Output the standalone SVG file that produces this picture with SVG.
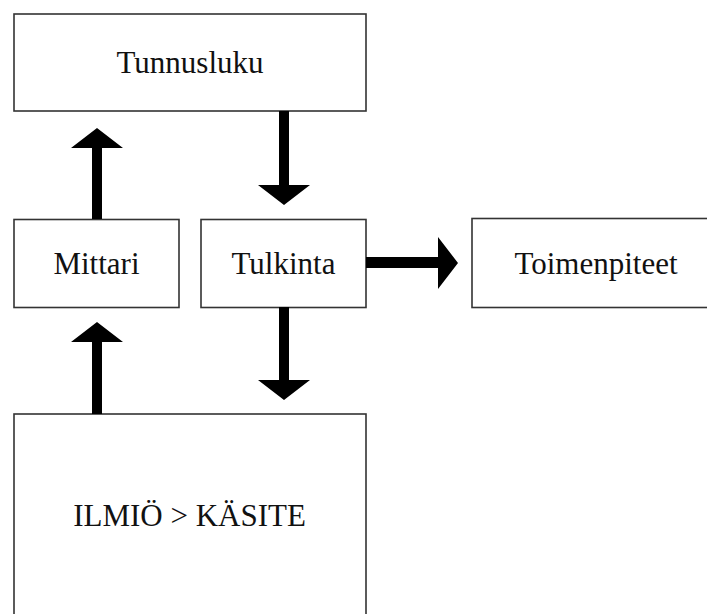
<svg xmlns="http://www.w3.org/2000/svg" width="707" height="614" viewBox="0 0 707 614">
<style>
.box{fill:#fff;stroke:#333;stroke-width:1.6}
.lbl{font-family:"Liberation Serif","Times New Roman",serif;font-size:31px;fill:#111;text-anchor:middle}
.arr{fill:#000}
</style>
<rect width="707" height="614" fill="#fff"/>
<g id="tunnusluku"><rect class="box" x="14" y="14" width="352" height="97"/><text class="lbl" x="190" y="73">Tunnusluku</text></g>
<g id="mittari"><rect class="box" x="14" y="219.5" width="165" height="88"/><text class="lbl" x="96.5" y="274">Mittari</text></g>
<g id="tulkinta"><rect class="box" x="201" y="219.5" width="165" height="88"/><text class="lbl" x="283.5" y="274">Tulkinta</text></g>
<g id="toimenpiteet"><rect class="box" x="472" y="218.5" width="248" height="89"/><text class="lbl" x="596" y="274">Toimenpiteet</text></g>
<g id="ilmio"><rect class="box" x="14" y="414" width="352" height="210"/><text class="lbl" x="189.5" y="526">ILMIÖ &gt; KÄSITE</text></g>
<g id="connectors">
<polygon class="arr" points="92,219 92,148 71,148 97,128 123,148 102,148 102,219"/>
<polygon class="arr" points="279,111 279,185 258,185 284,205 310,185 289,185 289,111"/>
<polygon class="arr" points="92,414 92,342 71,342 97,322 123,342 102,342 102,414"/>
<polygon class="arr" points="279,307 279,380 258,380 284,400 310,380 289,380 289,307"/>
<polygon class="arr" points="366,257 438,257 438,237 458,263 438,289 438,268 366,268"/>
</g>
</svg>
